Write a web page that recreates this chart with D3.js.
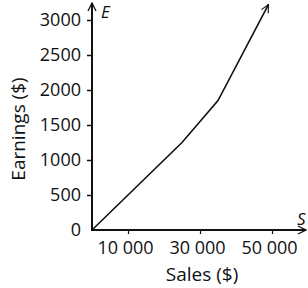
<!DOCTYPE html>
<html>
<head>
<meta charset="utf-8">
<script src="https://cdn.jsdelivr.net/npm/d3@7"></script>
<style>
  body { margin: 0; background: #fff; }
  text { font-family: "Open Sans", sans-serif; fill: #111; }
</style>
</head>
<body>
<div id="chart"></div>
<script>
// values
var sales = [0, 25000, 35000, 49000];
var earnings = [0, 1250, 1850, 3220];
var xTicks = [10000, 30000, 50000];
var xTickLabels = ['10 000', '30 000', '50 000'];
var yTicks = [0, 500, 1000, 1500, 2000, 2500, 3000];

var W = 308, H = 288;
var x = d3.scaleLinear().domain([0, 50000]).range([92, 272]);
var y = d3.scaleLinear().domain([0, 3000]).range([230, 20]);

var svg = d3.select('#chart').append('svg')
    .attr('width', W)
    .attr('height', H);

var defs = svg.append('defs');
defs.append('marker')
    .attr('id', 'arr')
    .attr('viewBox', '0 0 10 10')
    .attr('refX', 9).attr('refY', 5)
    .attr('markerWidth', 5).attr('markerHeight', 5)
    .attr('markerUnits', 'strokeWidth')
    .attr('orient', 'auto')
    .append('path')
    .attr('d', 'M1,1 L9,5 L1,9')
    .attr('fill', 'none')
    .attr('stroke', '#111')
    .attr('stroke-width', 1.3);
defs.append('marker')
    .attr('id', 'arrLine')
    .attr('viewBox', '0 0 10 10')
    .attr('refX', 9).attr('refY', 5)
    .attr('markerWidth', 6).attr('markerHeight', 6)
    .attr('markerUnits', 'strokeWidth')
    .attr('orient', 'auto')
    .append('path')
    .attr('d', 'M1,1 L9,5 L1,9')
    .attr('fill', 'none')
    .attr('stroke', '#111')
    .attr('stroke-width', 1.2);

// y axis
var yAxis = svg.append('g')
    .attr('transform', 'translate(' + x(0) + ',0)')
    .call(d3.axisLeft(y).tickValues(yTicks).tickSize(5).tickPadding(6).tickFormat(d3.format('d')));
yAxis.select('.domain').remove();
yAxis.selectAll('.tick line').attr('stroke', '#111').attr('stroke-width', 1.5)
    .filter(function(d) { return d === 0; }).remove();
yAxis.selectAll('.tick text')
    .style('font-family', '"Open Sans", sans-serif')
    .style('font-size', '18px')
    .attr('fill', '#111');

// x axis
var xAxis = svg.append('g')
    .attr('transform', 'translate(0,' + y(0) + ')')
    .call(d3.axisBottom(x).tickValues(xTicks).tickSize(4).tickPadding(7)
        .tickFormat(function(d, i) { return xTickLabels[i]; }));
xAxis.select('.domain').remove();
xAxis.selectAll('.tick line').attr('stroke', '#111').attr('stroke-width', 1.2);
xAxis.selectAll('.tick text')
    .style('font-family', '"Open Sans", sans-serif')
    .style('font-size', '18px')
    .attr('dx', -3)
    .attr('fill', '#111');

// axis lines with arrows
svg.append('line')
    .attr('x1', x(0)).attr('y1', y(0))
    .attr('x2', 306).attr('y2', y(0))
    .attr('stroke', '#111').attr('stroke-width', 2)
    .attr('marker-end', 'url(#arr)');
svg.append('line')
    .attr('x1', x(0)).attr('y1', y(0) + 1)
    .attr('x2', x(0)).attr('y2', 3)
    .attr('stroke', '#111').attr('stroke-width', 2)
    .attr('marker-end', 'url(#arr)');

// axis letters
svg.append('text')
    .attr('x', 101).attr('y', 18)
    .style('font-size', '17px')
    .style('font-style', 'italic')
    .text('E');
svg.append('text')
    .attr('x', 297).attr('y', 225)
    .style('font-size', '17px')
    .style('font-style', 'italic')
    .text('S');

// axis titles
svg.append('text')
    .attr('transform', 'translate(25,' + 129 + ') rotate(-90)')
    .attr('text-anchor', 'middle')
    .style('font-size', '19px')
    .text('Earnings ($)');
svg.append('text')
    .attr('x', 202).attr('y', 281)
    .attr('text-anchor', 'middle')
    .style('font-size', '19px')
    .text('Sales ($)');

// earnings line
var pts = sales.map(function(s, i) { return [s, earnings[i]]; });
var line = d3.line()
    .x(function(d) { return x(d[0]); })
    .y(function(d) { return y(d[1]); });
svg.append('path')
    .datum(pts)
    .attr('d', line)
    .attr('fill', 'none')
    .attr('stroke', '#111')
    .attr('stroke-width', 1.6)
    .attr('marker-end', 'url(#arrLine)');
</script>
</body>
</html>
